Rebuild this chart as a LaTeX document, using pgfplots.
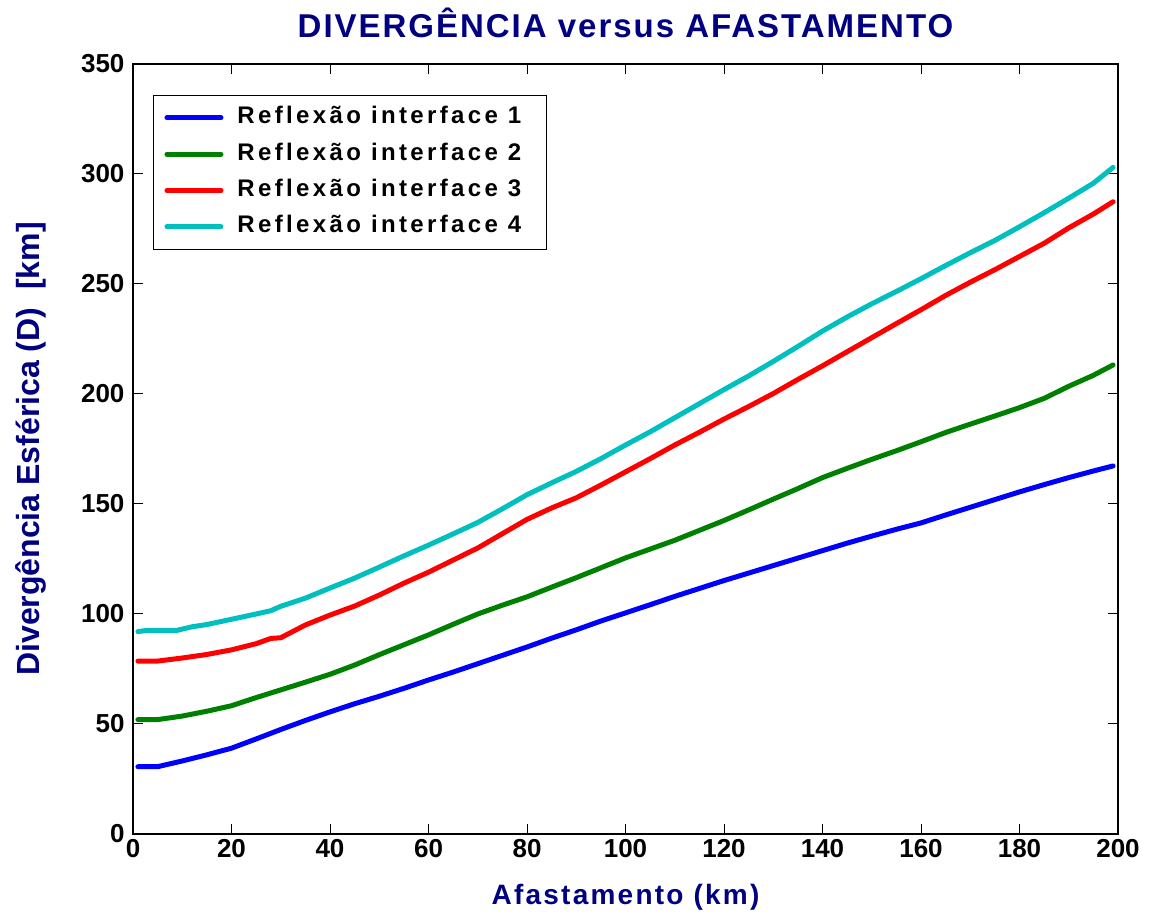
\documentclass[border=0pt]{standalone}
\usepackage{fontspec}
\usepackage{pgfplots}
\pgfplotsset{compat=1.18}
\setmainfont{Liberation Sans}
\newfontfamily\titlefont[LetterSpace=6]{Liberation Sans}
\newfontfamily\legfont[LetterSpace=14]{Liberation Sans}
\newfontfamily\xlabfont[LetterSpace=8]{Liberation Sans}
\definecolor{navy}{RGB}{0,0,128}
\definecolor{c1}{RGB}{0,0,255}
\definecolor{c2}{RGB}{0,128,0}
\definecolor{c3}{RGB}{255,0,0}
\definecolor{c4}{RGB}{0,191,191}
% right-hand padding inside legend entries
\newcommand{\legpad}{\hspace{10pt}\mbox{}}

\begin{document}
\begin{tikzpicture}
\begin{axis}[
  scale only axis,
  width=985pt, height=770pt,
  xmin=0, xmax=200, ymin=0, ymax=350,
  xtick={0,20,...,200}, ytick={0,50,...,350},
  tick align=inside,
  major tick length=10pt,
  axis line style={line width=1.5pt},
  every tick/.style={black, line width=1pt},
  /pgf/number format/assume math mode=true,
  ticklabel style={font=\bfseries\fontsize{26}{30}\selectfont},
  yticklabel style={xshift=-5pt},
  xticklabel style={yshift=-2pt},
  title={DIVERGÊNCIA versus AFASTAMENTO},
  title style={font=\titlefont\bfseries\fontsize{33}{38}\selectfont, text=navy,
    at={(axis description cs:0.5,1)}, anchor=base, yshift=20pt},
  xlabel={Afastamento (km)},
  xlabel style={font=\xlabfont\bfseries\fontsize{28}{32}\selectfont, text=navy,
    at={(axis description cs:0.5,0)}, anchor=base, yshift=-70pt},
  ylabel={Divergência Esférica (D)\ \ [km]},
  ylabel style={font=\bfseries\fontsize{32}{36}\selectfont, text=navy,
    at={(axis description cs:-0.0954,0.5)}, anchor=base},
  legend style={at={(0.0203,0.9597)}, anchor=north west, draw=black, line width=1pt,
    fill=white, font=\legfont\bfseries\fontsize{24}{28}\selectfont,
    inner xsep=11pt, inner ysep=4pt, row sep=0pt,
    nodes={text height=18pt, text depth=6pt, inner ysep=6.2pt, inner xsep=4pt},
    /tikz/every odd column/.append style={column sep=10pt}},
  legend cell align=left,
  legend image code/.code={\draw[#1] (0pt,0pt) -- (54pt,0pt);},
  every axis plot/.append style={line width=5pt, line join=round, line cap=round},
]
\coordinate (ll) at (rel axis cs:0,0);
\coordinate (ur) at (rel axis cs:1,1);

% interface 1
\addplot[c1] coordinates {
(1,30.6) (5,30.6) (10,33.2) (15,36.0) (20,39.0) (25,43.2) (30,47.5) (35,51.6)
(40,55.5) (45,59.2) (50,62.6) (55,66.2) (60,70.0) (65,73.6) (70,77.4) (75,81.2)
(80,85.0) (85,89.0) (90,92.8) (95,96.8) (100,100.5) (105,104.2) (110,108.0)
(115,111.6) (120,115.2) (125,118.6) (130,122.0) (135,125.4) (140,128.8)
(145,132.2) (150,135.4) (155,138.5) (160,141.4) (165,145.0) (170,148.5)
(175,152.0) (180,155.5) (185,158.8) (190,162.0) (195,165.0) (199,167.3)};
\addlegendentry{Reflexão interface 1\legpad}

% interface 2
\addplot[c2] coordinates {
(1,52.0) (5,52.0) (10,53.6) (15,55.8) (20,58.3) (25,62.0) (30,65.5) (35,69.0)
(40,72.6) (45,76.8) (50,81.5) (55,86.0) (60,90.5) (65,95.3) (70,100.0) (75,104.0)
(80,107.8) (85,112.2) (90,116.5) (95,121.0) (100,125.5) (105,129.5) (110,133.5)
(115,138.0) (120,142.5) (125,147.3) (130,152.2) (135,157.0) (140,162.0)
(145,166.2) (150,170.3) (155,174.2) (160,178.3) (165,182.5) (170,186.3)
(175,190.0) (180,193.8) (185,198.0) (190,203.5) (195,208.5) (199,213.2)};
\addlegendentry{Reflexão interface 2\legpad}

% interface 3
\addplot[c3] coordinates {
(1,78.6) (5,78.6) (10,80.0) (15,81.6) (20,83.7) (25,86.5) (28,88.9) (30,89.2)
(35,95.0) (40,99.5) (45,103.6) (50,108.6) (55,114.0) (60,119.0) (65,124.5)
(70,130.0) (75,136.5) (80,143.0) (85,148.2) (90,152.8) (95,158.6) (100,164.6)
(105,170.6) (110,176.8) (115,182.6) (120,188.6) (125,194.3) (130,200.2)
(135,206.6) (140,212.8) (145,219.2) (150,225.6) (155,232.0) (160,238.3)
(165,244.8) (170,250.8) (175,256.5) (180,262.5) (185,268.5) (190,275.5)
(195,281.8) (199,287.4)};
\addlegendentry{Reflexão interface 3\legpad}

% interface 4
\addplot[c4] coordinates {
(1,92.0) (3,92.6) (9,92.6) (12,94.2) (15,95.2) (20,97.6) (25,100.0) (28,101.5)
(30,103.5) (35,107.2) (40,111.8) (45,116.3) (50,121.3) (55,126.4) (60,131.3)
(65,136.4) (70,141.6) (75,147.8) (80,154.2) (85,159.6) (90,164.8) (95,170.6)
(100,176.8) (105,182.8) (110,189.2) (115,195.6) (120,202.0) (125,208.2)
(130,214.8) (135,221.6) (140,228.6) (145,235.0) (150,241.0) (155,246.6)
(160,252.4) (165,258.4) (170,264.2) (175,269.8) (180,276.0) (185,282.4)
(190,289.0) (195,295.8) (199,303.0)};
\addlegendentry{Reflexão interface 4\legpad}
\end{axis}
\pgfresetboundingbox
\useasboundingbox ([shift={(-133pt,-80pt)}]ll) rectangle ([shift={(31pt,64pt)}]ur);
\end{tikzpicture}
\end{document}
